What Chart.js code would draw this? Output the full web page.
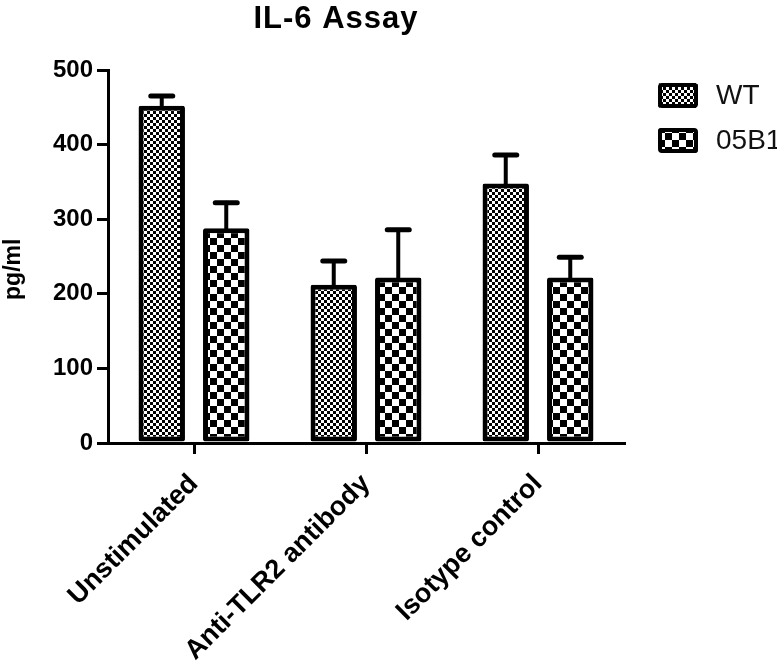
<!DOCTYPE html>
<html>
<head>
<meta charset="utf-8">
<title>IL-6 Assay</title>
<script src="https://cdn.jsdelivr.net/npm/chart.js@4/dist/chart.umd.min.js"></script>
<style>
    body { margin: 0; background: #fff; }
    canvas { display: block; }
</style>
</head>
<body>
<canvas id="chartIL6" width="777" height="667"></canvas>
<script>
// Datos
const categorias = ['Unstimulated', 'Anti-TLR2 antibody', 'Isotype control'];
const series = ['WT', '05B1'];
const valoresWT = [452, 212, 348];
const erroresWT = [13, 32, 38];
const valores05B1 = [288, 222, 222];
const errores05B1 = [34, 64, 27];
const ticksY = [0, 100, 200, 300, 400, 500];

const FUENTE = '"Liberation Sans", Arial, sans-serif';

// Patrón de cuadros blanco/negro
function crearPatron(celda) {
    const c = document.createElement('canvas');
    c.width = celda * 2;
    c.height = celda * 2;
    const g = c.getContext('2d');
    g.fillStyle = '#fff';
    g.fillRect(0, 0, c.width, c.height);
    g.fillStyle = '#000';
    g.fillRect(0, 0, celda, celda);
    g.fillRect(celda, celda, celda, celda);
    return g.createPattern(c, 'repeat');
}

// Barras de error (solo hacia arriba)
const pluginErrores = {
    id: 'barrasError',
    afterDatasetsDraw(chart) {
        const ctx = chart.ctx;
        const escalaY = chart.scales.y;
        chart.data.datasets.forEach((ds, i) => {
            const meta = chart.getDatasetMeta(i);
            meta.data.forEach((barra, j) => {
                const tope = escalaY.getPixelForValue(ds.data[j] + ds.errores[j]);
                ctx.save();
                ctx.strokeStyle = '#000';
                ctx.lineCap = 'round';
                ctx.lineWidth = 4;
                ctx.beginPath();
                ctx.moveTo(barra.x, barra.y);
                ctx.lineTo(barra.x, tope);
                ctx.stroke();
                ctx.lineWidth = 5;
                ctx.beginPath();
                ctx.moveTo(barra.x - 11, tope);
                ctx.lineTo(barra.x + 11, tope);
                ctx.stroke();
                ctx.restore();
            });
        });
    }
};

// Título y leyenda a la derecha
const pluginTextos = {
    id: 'textos',
    afterDraw(chart) {
        const ctx = chart.ctx;
        ctx.save();
        ctx.fillStyle = '#000';
        ctx.font = 'bold 31px ' + FUENTE;
        ctx.textAlign = 'center';
        ctx.textBaseline = 'alphabetic';
        ctx.letterSpacing = '1px';
        ctx.fillText('IL-6 Assay', 336, 28);
        ctx.letterSpacing = '0px';

        chart.data.datasets.forEach((ds, i) => {
            const y = 83 + i * 45;
            ctx.beginPath();
            ctx.roundRect(658, y, 40, 25, 3);
            ctx.fillStyle = ds.backgroundColor;
            ctx.fill();
            ctx.lineWidth = 4;
            ctx.strokeStyle = '#000';
            ctx.beginPath();
            ctx.roundRect(660, y + 2, 36, 21, 2);
            ctx.stroke();

            ctx.fillStyle = '#111';
            ctx.font = '28px ' + FUENTE;
            ctx.textAlign = 'left';
            ctx.textBaseline = 'middle';
            ctx.fillText(ds.label, 716, y + 13);
        });
        ctx.restore();
    }
};

function inicializarGrafico() {
    const ctx = document.getElementById('chartIL6').getContext('2d');
    const patrones = [crearPatron(3), crearPatron(7)];
    const valores = [valoresWT, valores05B1];
    const errores = [erroresWT, errores05B1];

    new Chart(ctx, {
        type: 'bar',
        data: {
            labels: categorias,
            datasets: series.map((nombre, i) => ({
                label: nombre,
                data: valores[i],
                errores: errores[i],
                backgroundColor: patrones[i],
                borderColor: '#000',
                borderWidth: 5,
                borderRadius: 2,
                borderSkipped: false,
                categoryPercentage: 0.75,
                barPercentage: 0.72
            }))
        },
        options: {
            responsive: false,
            animation: false,
            devicePixelRatio: 1,
            layout: { padding: { top: 70, right: 153, left: 0, bottom: 0 } },
            plugins: {
                legend: { display: false },
                title: { display: false },
                tooltip: { enabled: false }
            },
            scales: {
                x: {
                    offset: true,
                    afterFit: (escala) => { escala.height = 224; },
                    grid: {
                        offset: false,
                        drawOnChartArea: false,
                        tickLength: 11,
                        lineWidth: 3,
                        color: '#000'
                    },
                    border: { width: 3, color: '#000' },
                    ticks: {
                        autoSkip: false,
                        minRotation: 45,
                        maxRotation: 45,
                        padding: 14,
                        color: '#000',
                        font: { family: FUENTE, size: 27, weight: 'bold' }
                    }
                },
                y: {
                    min: 0,
                    max: 500,
                    afterFit: (escala) => { escala.width = 108; },
                    afterBuildTicks: (escala) => {
                        escala.ticks = ticksY.map(v => ({ value: v }));
                    },
                    title: {
                        display: true,
                        // espacios al final para bajar el texto como en el original
                        text: 'pg/ml\u00a0\u00a0\u00a0\u00a0',
                        color: '#000',
                        padding: { top: 0, bottom: 0 },
                        font: { family: FUENTE, size: 23, weight: 'bold' }
                    },
                    grid: {
                        drawOnChartArea: false,
                        tickLength: 11,
                        lineWidth: 3,
                        color: '#000'
                    },
                    border: { width: 3, color: '#000' },
                    ticks: {
                        padding: 4,
                        color: '#000',
                        font: { family: FUENTE, size: 24, weight: 'bold' }
                    }
                }
            }
        },
        plugins: [pluginErrores, pluginTextos]
    });
}

inicializarGrafico();
</script>
</body>
</html>
